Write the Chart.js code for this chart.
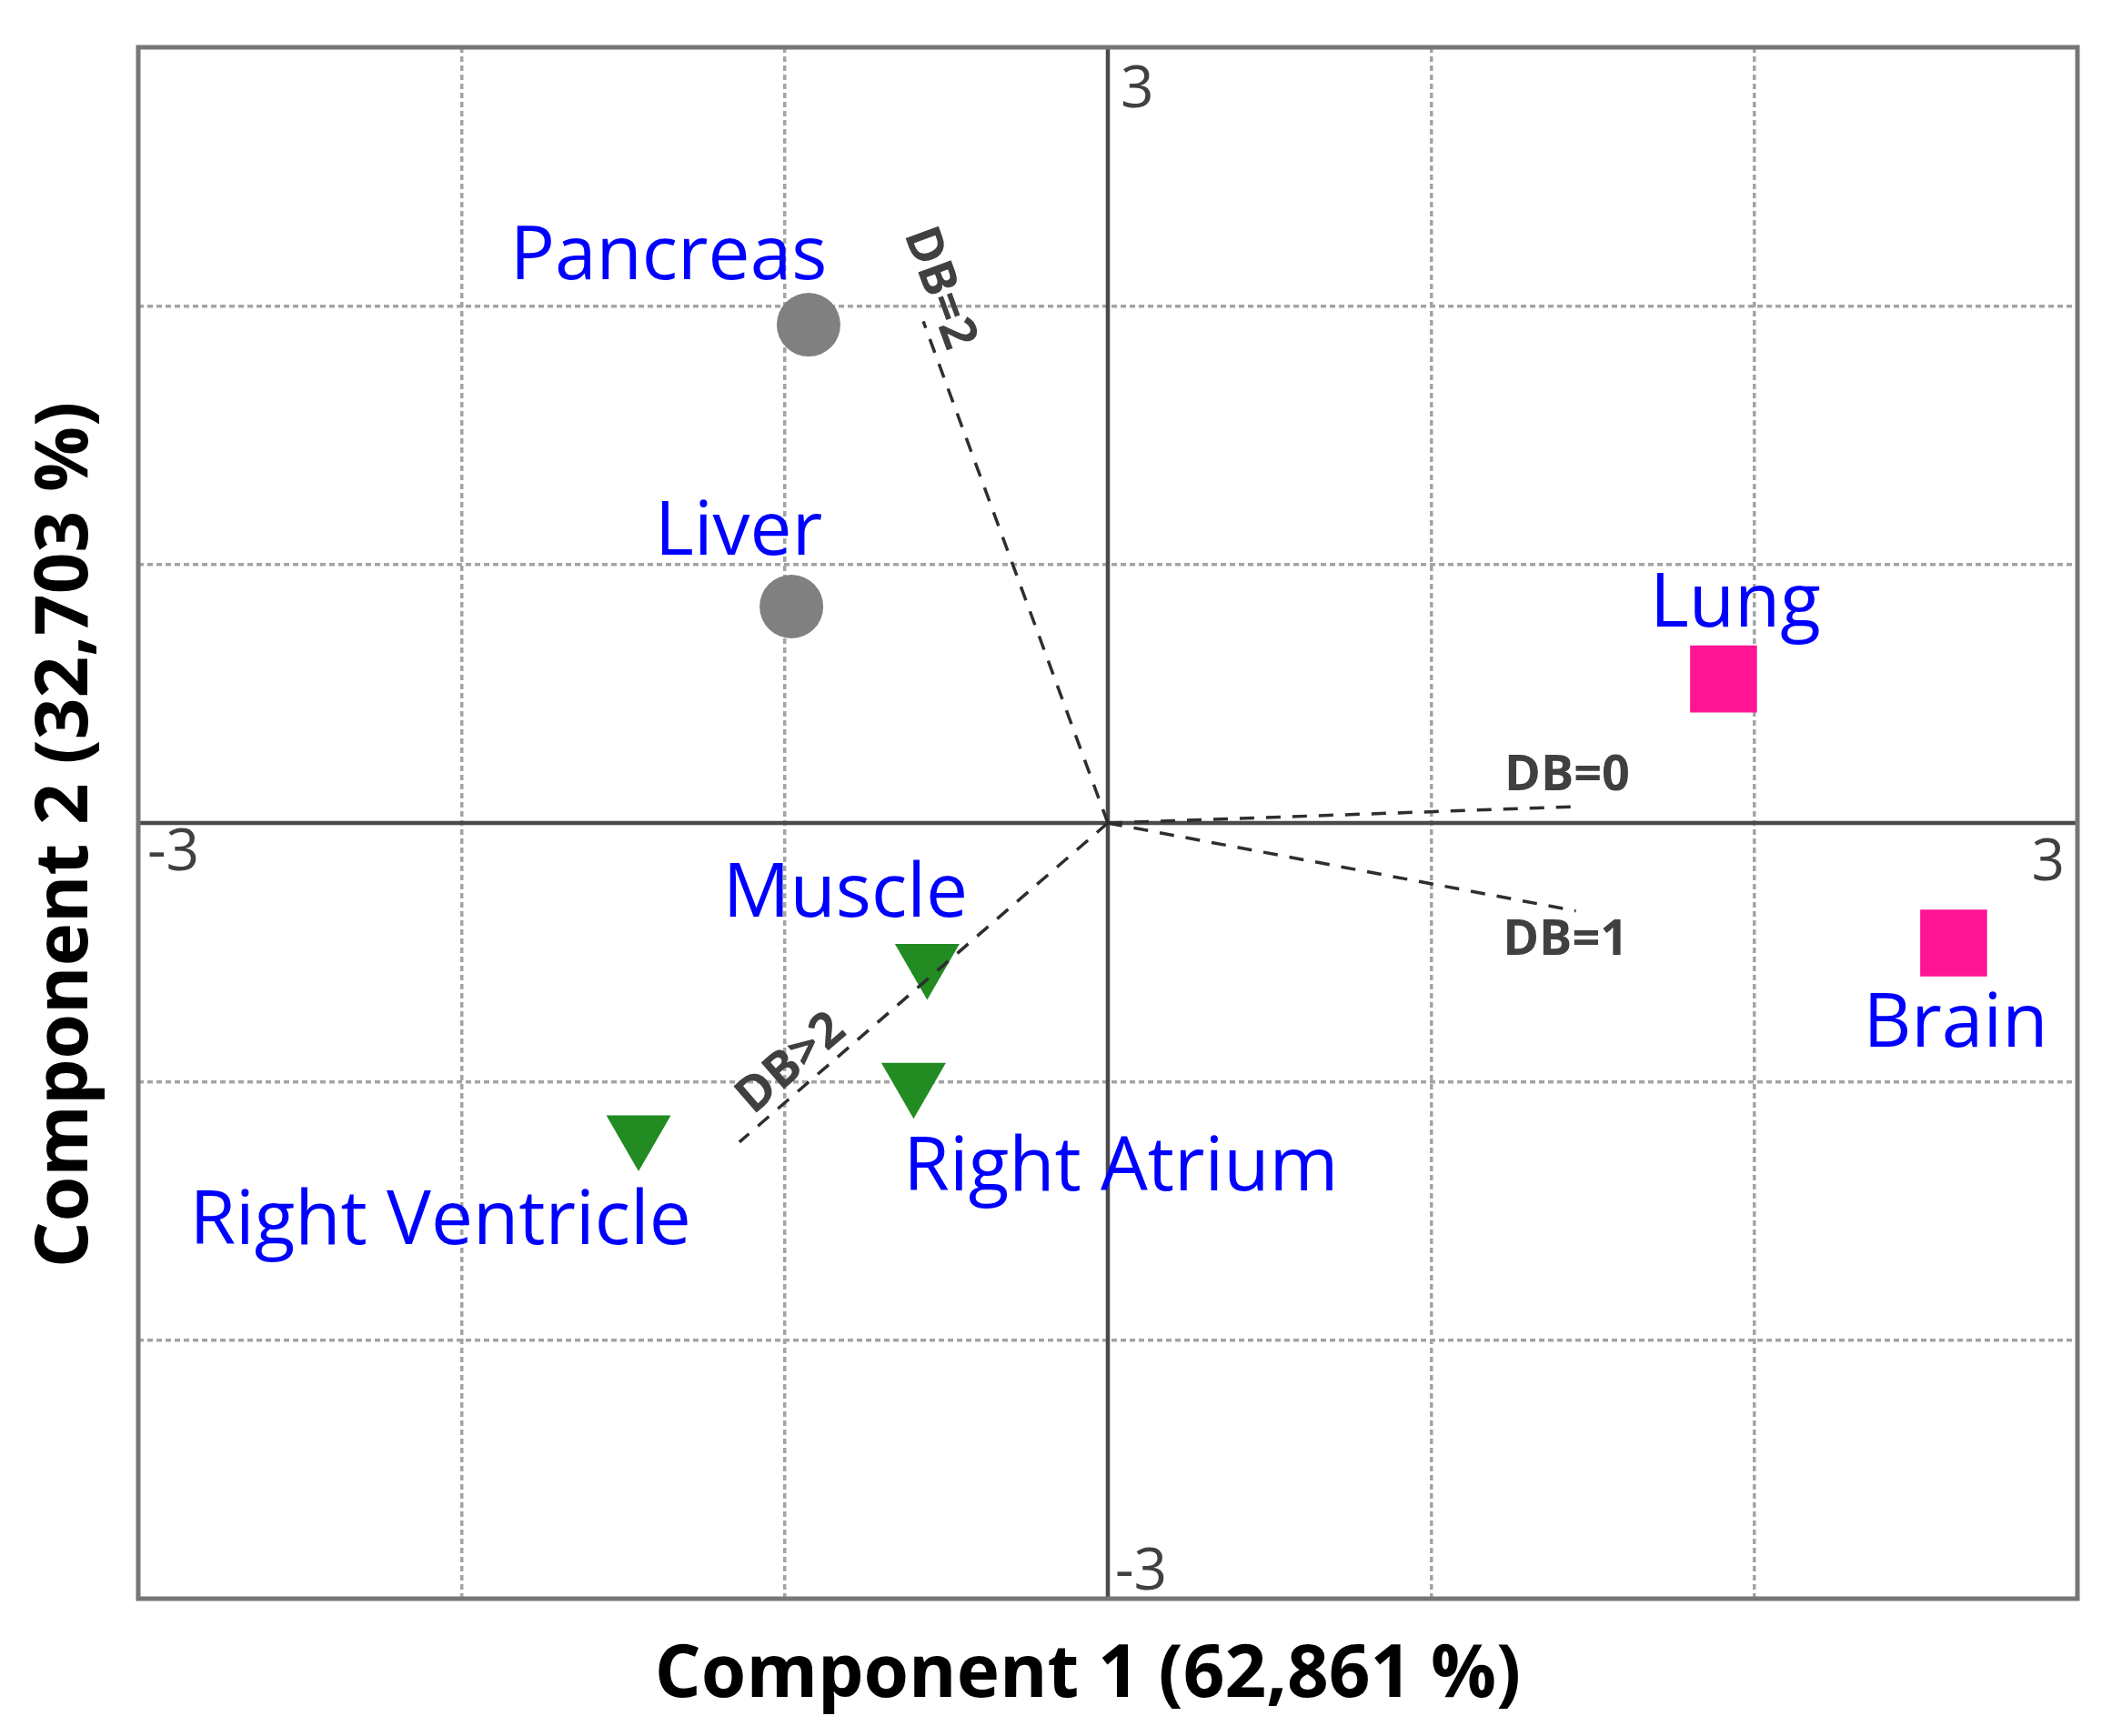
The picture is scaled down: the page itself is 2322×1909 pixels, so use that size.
<!DOCTYPE html>
<html>
<head>
<meta charset="utf-8">
<script src="https://cdn.jsdelivr.net/npm/chart.js@4"></script>
<style>
  html, body { margin: 0; padding: 0; background: #ffffff; overflow: hidden; }
  #wrap { position: relative; width: 2322px; height: 1909px; }
</style>
</head>
<body>
<div id="wrap"><canvas id="c"></canvas></div>
<script>
// ---- data ----
const tissues = ['Pancreas', 'Liver', 'Lung', 'Brain', 'Muscle', 'Right Atrium', 'Right Ventricle'];
const component1 = [-0.926, -0.979, 1.905, 2.617, -0.559, -0.601, -1.452];
const component2 = [1.927, 0.837, 0.557, -0.464, -0.540, -1.000, -1.203];
const tissueGroup = [0, 0, 1, 1, 2, 2, 2];

const vectorNames = ['DB=0', 'DB=1', 'DB=2', 'DB>2'];
const vectorX = [1.447, 1.448, -0.571, -1.140];
const vectorY = [0.063, -0.340, 1.940, -1.234];

const axisMin = -3, axisMax = 3;
const tickLabels = ['-3', '3'];
const xTitle = 'Component 1 (62,861 %)';
const yTitle = 'Component 2 (32,703 %)';

// ---- label placement (pixels / annotation anchors), kept apart from the data ----
const labelDx = [-154, -58, 13, 2, -90, 228, -218];
const labelDy = [-50, -57, -58, 114, -51, 120, 121];
const vectorLabelX = [1.421, 1.416, -0.523, -0.979];
const vectorLabelY = [0.181, -0.457, 2.068, -0.932];
const vectorLabelAlong = [false, false, true, true];

// ---- styles ----
const groupStyles = [
  { color: '#808080', pointStyle: 'circle', radius: 35, rotation: 0 },
  { color: '#ff1493', pointStyle: 'rect', radius: 52, rotation: 0 },
  { color: '#228b22', pointStyle: 'triangle', radius: 41, rotation: 180 }
];

const pointDatasets = groupStyles.map((st, g) => {
  const pts = [];
  tissues.forEach((t, i) => {
    if (tissueGroup[i] === g) pts.push({ x: component1[i], y: component2[i], label: t, idx: i });
  });
  return {
    type: 'scatter',
    data: pts,
    pointStyle: st.pointStyle,
    pointRadius: st.radius,
    pointHoverRadius: st.radius,
    pointRotation: st.rotation,
    backgroundColor: st.color,
    borderColor: st.color,
    borderWidth: 0,
    order: 1
  };
});

const vectorDatasets = vectorNames.map((n, i) => ({
  type: 'scatter',
  label: n,
  data: [{ x: 0, y: 0 }, { x: vectorX[i], y: vectorY[i] }],
  showLine: true,
  borderColor: '#2e2e2e',
  borderWidth: 3.5,
  borderDash: [16, 13],
  pointRadius: 0,
  fill: false,
  order: 0
}));

const overlayPlugin = {
  id: 'overlay',
  beforeDatasetsDraw(chart) {
    const { ctx, chartArea: a, scales: { x, y } } = chart;
    const x0 = x.getPixelForValue(0), y0 = y.getPixelForValue(0);
    ctx.save();
    ctx.strokeStyle = '#4a4a4a';
    ctx.lineWidth = 4.5;
    ctx.beginPath();
    ctx.moveTo(x0, a.top); ctx.lineTo(x0, a.bottom);
    ctx.moveTo(a.left, y0); ctx.lineTo(a.right, y0);
    ctx.stroke();
    ctx.strokeStyle = '#767676';
    ctx.lineWidth = 5;
    ctx.strokeRect(a.left, a.top, a.right - a.left, a.bottom - a.top);
    ctx.restore();
  },
  afterDatasetsDraw(chart) {
    const { ctx, chartArea: a, scales: { x, y } } = chart;
    const x0 = x.getPixelForValue(0), y0 = y.getPixelForValue(0);
    ctx.save();
    // tissue labels
    ctx.fillStyle = '#0000ff';
    ctx.font = '82px "Open Sans"';
    ctx.textAlign = 'center';
    ctx.textBaseline = 'alphabetic';
    tissues.forEach((t, i) => {
      const px = x.getPixelForValue(component1[i]) + labelDx[i];
      const py = y.getPixelForValue(component2[i]) + labelDy[i];
      ctx.fillText(t, px, py);
    });
    // vector labels
    ctx.fillStyle = '#404040';
    ctx.font = 'bold 54px "Open Sans"';
    ctx.textBaseline = 'middle';
    vectorNames.forEach((n, i) => {
      const px = x.getPixelForValue(vectorLabelX[i]);
      const py = y.getPixelForValue(vectorLabelY[i]);
      let ang = 0;
      if (vectorLabelAlong[i]) {
        const dx = x.getPixelForValue(vectorX[i]) - x0;
        const dy = y.getPixelForValue(vectorY[i]) - y0;
        ang = Math.atan2(dy, dx);
        if (ang > Math.PI / 2) ang -= Math.PI;
        if (ang < -Math.PI / 2) ang += Math.PI;
      }
      ctx.save();
      ctx.translate(px, py);
      ctx.rotate(ang);
      ctx.fillText(n, 0, 0);
      ctx.restore();
    });
    // axis end labels inside the plot
    ctx.fillStyle = '#404040';
    ctx.font = '64px "Open Sans"';
    ctx.textBaseline = 'alphabetic';
    ctx.textAlign = 'left';
    ctx.fillText(tickLabels[1], x0 + 14, y.getPixelForValue(axisMax) + 66);
    ctx.fillText(tickLabels[0], x.getPixelForValue(axisMin) + 10, y0 + 52);
    ctx.fillText(tickLabels[0], x0 + 8, y.getPixelForValue(axisMin) - 10);
    ctx.textAlign = 'right';
    ctx.fillText(tickLabels[1], x.getPixelForValue(axisMax) - 14, y0 + 63);
    // axis titles
    ctx.fillStyle = '#000000';
    ctx.font = 'bold 80px "Open Sans"';
    ctx.textAlign = 'center';
    ctx.fillText(xTitle, (a.left + a.right) / 2 - 22, a.bottom + 108, 975);
    ctx.save();
    ctx.translate(a.left - 56, (a.top + a.bottom) / 2 + 13);
    ctx.rotate(-Math.PI / 2);
    ctx.fillText(yTitle, 0, 0, 970);
    ctx.restore();
    ctx.restore();
  }
};

const gridColor = (c) => {
  const v = c.tick ? c.tick.value : null;
  if (v === 0 || v === axisMin || v === axisMax) return 'rgba(0,0,0,0)';
  return '#a4a4a4';
};

const scaleOpts = {
  type: 'linear',
  min: axisMin,
  max: axisMax,
  ticks: { display: false, stepSize: 1 },
  title: { display: false },
  grid: { color: gridColor, lineWidth: 3.5, drawTicks: false, borderDash: [6, 4] },
  border: { display: false, dash: [6, 4] }
};

new Chart(document.getElementById('c'), {
  type: 'scatter',
  data: { datasets: [...vectorDatasets, ...pointDatasets] },
  options: {
    responsive: true,
    maintainAspectRatio: false,
    animation: false,
    layout: { autoPadding: false, padding: { left: 152, top: 52, right: 38, bottom: 151 } },
    plugins: { legend: { display: false }, tooltip: { enabled: false } },
    scales: { x: scaleOpts, y: Object.assign({}, scaleOpts) }
  },
  plugins: [overlayPlugin]
});
</script>
</body>
</html>
